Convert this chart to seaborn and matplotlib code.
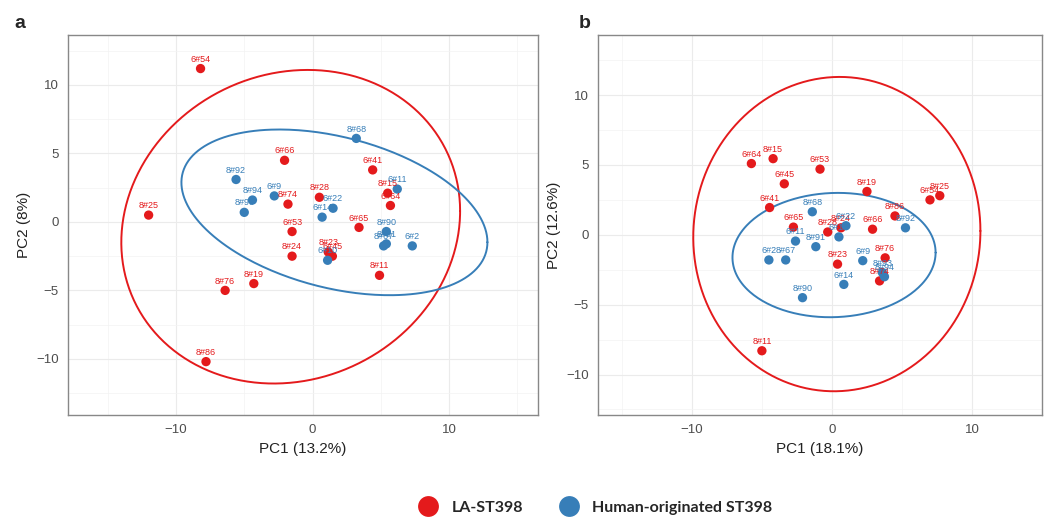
import numpy as np
import pandas as pd
import matplotlib.pyplot as plt
import seaborn as sns
from matplotlib.lines import Line2D

# --- panel a: PCA scores ---
a_red_names = ['6#54', '6#66', '8#25', '8#74', '6#53', '8#24', '8#19', '8#76', '8#86',
               '8#28', '6#41', '8#15', '6#64', '6#65', '8#11', '8#23', '6#45']
a_red_pc1 = [-8.2, -2.05, -12.0, -1.8, -1.5, -1.5, -4.3, -6.4, -7.8,
             0.5, 4.4, 5.5, 5.7, 3.4, 4.9, 1.15, 1.45]
a_red_pc2 = [11.2, 4.5, 0.5, 1.3, -0.7, -2.5, -4.5, -5.0, -10.2,
             1.8, 3.8, 2.1, 1.2, -0.4, -3.9, -2.2, -2.5]

a_blue_names = ['8#68', '8#92', '8#94', '8#93', '6#9', '6#22', '6#14', '6#11', '8#90',
                '8#67', '8#91', '6#2', '6#10']
a_blue_pc1 = [3.2, -5.6, -4.4, -5.0, -2.8, 1.5, 0.7, 6.2, 5.4, 5.2, 5.4, 7.3, 1.1]
a_blue_pc2 = [6.1, 3.1, 1.6, 0.7, 1.9, 1.0, 0.35, 2.4, -0.7, -1.75, -1.6, -1.75, -2.8]

# --- panel b ---
b_red_names = ['6#64', '8#15', '6#45', '6#41', '6#65', '6#53', '8#19', '6#54', '8#25',
               '8#86', '6#66', '8#24', '8#28', '8#23', '8#76', '8#74', '8#11']
b_red_pc1 = [-5.75, -4.2, -3.4, -4.45, -2.75, -0.85, 2.5, 7.0, 7.7,
             4.5, 2.9, 0.65, -0.3, 0.4, 3.8, 3.4, -5.0]
b_red_pc2 = [5.1, 5.45, 3.65, 1.95, 0.55, 4.7, 3.1, 2.5, 2.8,
             1.35, 0.4, 0.5, 0.2, -2.1, -1.65, -3.3, -8.3]

b_blue_names = ['8#68', '6#11', '8#91', '6#2', '8#67', '8#90', '6#22', '6#10', '6#14',
                '6#9', '8#92', '8#93', '8#94']
b_blue_pc1 = [-1.4, -2.6, -1.15, -4.5, -3.3, -2.1, 1.0, 0.5, 0.85, 2.2, 5.25, 3.6, 3.75]
b_blue_pc2 = [1.65, -0.45, -0.85, -1.8, -1.8, -4.5, 0.65, -0.15, -3.55, -1.85, 0.5, -2.7, -3.0]

# 95% ellipses: centre x/y, half-range x/y, correlation
a_ell_red = [-1.6, -0.35, 12.4, 11.45, 0.1]
a_ell_blue = [1.6, 0.7, 11.2, 6.05, -0.36]
b_ell_red = [0.35, 0.05, 10.25, 11.25, 0.02]
b_ell_blue = [0.15, -1.45, 7.25, 4.45, 0.04]

groups = ['LA-ST398', 'Human-originated ST398']
colors = {'LA-ST398': '#E41A1C', 'Human-originated ST398': '#377EB8'}


def make_df(rn, rx, ry, bn, bx, by):
    return pd.DataFrame({
        'name': rn + bn,
        'PC1': rx + bx,
        'PC2': ry + by,
        'group': [groups[0]] * len(rn) + [groups[1]] * len(bn),
    })


def ellipse_xy(spec, segments=300):
    cx, cy, hx, hy, r = spec
    t = np.linspace(0, 2 * np.pi, segments)
    x = cx + hx * np.cos(t)
    y = cy + hy * (r * np.cos(t) + np.sqrt(1 - r ** 2) * np.sin(t))
    return x, y


def draw_panel(ax, df, ells, xlab, ylab, xlim, ylim):
    for g, spec in zip(groups, ells):
        ex, ey = ellipse_xy(spec)
        ax.plot(ex, ey, color=colors[g], lw=1.4, zorder=2)
    sns.scatterplot(data=df, x='PC1', y='PC2', hue='group', palette=colors,
                    s=45, edgecolor='none', legend=False, ax=ax, zorder=3)
    for _, r in df.iterrows():
        ax.annotate(r['name'], (r['PC1'], r['PC2']), xytext=(0, 3.5),
                    textcoords='offset points', ha='center', va='bottom',
                    fontsize=6.5, color=colors[r['group']], zorder=4)
    ax.set_xlim(xlim)
    ax.set_ylim(ylim)
    ax.set_xticks([-10, 0, 10])
    ax.set_yticks([-10, -5, 0, 5, 10])
    ax.set_xticks([-15, -5, 5, 15], minor=True)
    ax.set_yticks([-12.5, -7.5, -2.5, 2.5, 7.5, 12.5], minor=True)
    ax.grid(which='major', color='#EBEBEB', lw=0.8)
    ax.grid(which='minor', color='#F3F3F3', lw=0.5)
    ax.set_axisbelow(True)
    ax.tick_params(which='minor', length=0)
    ax.tick_params(which='major', length=3, color='#555555', labelsize=9.5,
                   labelcolor='#4D4D4D')
    for sp in ax.spines.values():
        sp.set_color('#888888')
        sp.set_linewidth(1.0)
    ax.set_xlabel(xlab, fontsize=11, color='#222222')
    ax.set_ylabel(ylab, fontsize=11, color='#222222')


sns.set_theme(style='white')
plt.rcParams['font.family'] = ['Liberation Sans', 'DejaVu Sans']

df_a = make_df(a_red_names, a_red_pc1, a_red_pc2, a_blue_names, a_blue_pc1, a_blue_pc2)
df_b = make_df(b_red_names, b_red_pc1, b_red_pc2, b_blue_names, b_blue_pc1, b_blue_pc2)

fig = plt.figure(figsize=(10.53, 5.18), dpi=100)
ax_a = fig.add_axes([0.0646, 0.1988, 0.4463, 0.7336])
ax_b = fig.add_axes([0.5679, 0.1988, 0.4217, 0.7336])

draw_panel(ax_a, df_a, [a_ell_red, a_ell_blue], 'PC1 (13.2%)', 'PC2 (8%)',
           (-17.9, 16.5), (-14.1, 13.65))
draw_panel(ax_b, df_b, [b_ell_red, b_ell_blue], 'PC1 (18.1%)', 'PC2 (12.6%)',
           (-16.7, 14.7), (-12.9, 14.3))

fig.text(0.014, 0.945, 'a', fontsize=14, fontweight='bold')
fig.text(0.550, 0.945, 'b', fontsize=14, fontweight='bold')

handles = [Line2D([0], [0], marker='o', ls='', markersize=15,
                  markerfacecolor=colors[g], markeredgecolor='none') for g in groups]
fig.legend(handles, groups, loc='center', bbox_to_anchor=(0.5625, 0.02), ncol=2,
           frameon=False, handletextpad=0.45, columnspacing=1.9,
           prop={'family': 'Lato', 'weight': 'bold', 'size': 11.5})

fig.savefig('out.png', dpi=100)
